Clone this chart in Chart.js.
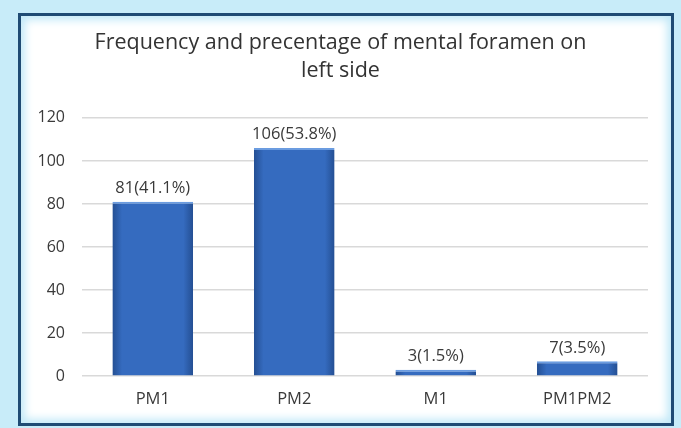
<!DOCTYPE html>
<html>
<head>
<meta charset="utf-8">
<script src="https://cdn.jsdelivr.net/npm/chart.js@4.4.0/dist/chart.umd.min.js"></script>
<style>
  html, body { margin: 0; padding: 0; }
  body { width: 681px; height: 428px; background: #c8ecf9; position: relative; overflow: hidden; }
  #frame {
    position: absolute; left: 18px; top: 13px; width: 656px; height: 413px;
    box-sizing: border-box; border: 3px solid #1f4b74; background: #fff;
    box-shadow: inset 0 0 8px 4px #c2e9f8;
  }
  #wrap { position: absolute; left: 0; top: 0; width: 681px; height: 428px; }
</style>
</head>
<body>
<div id="frame"></div>
<div id="wrap"><canvas id="chart"></canvas></div>
<script>
const categories = ['PM1', 'PM2', 'M1', 'PM1PM2'];
const counts = [81, 106, 3, 7];
const percents = ['41.1', '53.8', '1.5', '3.5'];
const yTicks = [0, 20, 40, 60, 80, 100, 120];

const FONT = '"Open Sans", Lato, sans-serif';
const TEXT = '#3a3a3a';
const barPct = 0.57;

function barFill(c) {
  const chart = c.chart;
  const xs = chart.scales.x;
  if (!xs || c.dataIndex === undefined) return '#3469bd';
  const cx = xs.getPixelForValue(c.dataIndex);
  const w = (xs.width / categories.length) * barPct;
  if (!isFinite(cx) || !isFinite(w) || w <= 0) return '#3469bd';
  const g = chart.ctx.createLinearGradient(cx - w / 2, 0, cx + w / 2, 0);
  g.addColorStop(0, '#244f93');
  g.addColorStop(0.12, '#356bbf');
  g.addColorStop(0.88, '#356bbf');
  g.addColorStop(1, '#244f93');
  return g;
}

const valueLabels = {
  id: 'valueLabels',
  afterDatasetsDraw(chart) {
    const ctx = chart.ctx;
    const meta = chart.getDatasetMeta(0);
    ctx.save();
    ctx.font = '16.5px ' + FONT;
    ctx.fillStyle = TEXT;
    ctx.textAlign = 'center';
    ctx.textBaseline = 'bottom';
    meta.data.forEach((bar, i) => {
      ctx.fillText(counts[i] + '(' + percents[i] + '%)', bar.x, bar.y - 5);
    });
    ctx.restore();
  }
};

new Chart(document.getElementById('chart'), {
  type: 'bar',
  data: {
    labels: categories,
    datasets: [{
      data: counts,
      backgroundColor: barFill,
      borderColor: '#6b9ce0',
      borderWidth: { top: 2, left: 0, right: 0, bottom: 0 },
      borderSkipped: 'bottom',
      categoryPercentage: 1,
      barPercentage: barPct
    }]
  },
  options: {
    responsive: true,
    maintainAspectRatio: false,
    animation: false,
    layout: { padding: { left: 33, right: 33, top: 0, bottom: 14 } },
    plugins: {
      legend: { display: false },
      tooltip: { enabled: false },
      title: {
        display: true,
        text: ['Frequency and precentage of mental foramen on', 'left side'],
        color: '#333',
        font: { family: FONT, size: 21.5, weight: 'normal', lineHeight: 1.3 },
        padding: { top: 29, bottom: 33 }
      }
    },
    scales: {
      x: {
        grid: { display: false },
        border: { display: false },
        ticks: { color: TEXT, font: { family: FONT, size: 16.5 }, padding: 5 }
      },
      y: {
        min: 0, max: 120,
        afterBuildTicks(scale) { scale.ticks = yTicks.map(v => ({ value: v })); },
        afterFit(scale) { scale.width = 49; },
        grid: { color: '#d9d9d9', lineWidth: 1.5, drawTicks: false },
        border: { display: false },
        ticks: { color: TEXT, font: { family: FONT, size: 16 }, padding: 17 }
      }
    }
  },
  plugins: [valueLabels]
});
</script>
</body>
</html>
